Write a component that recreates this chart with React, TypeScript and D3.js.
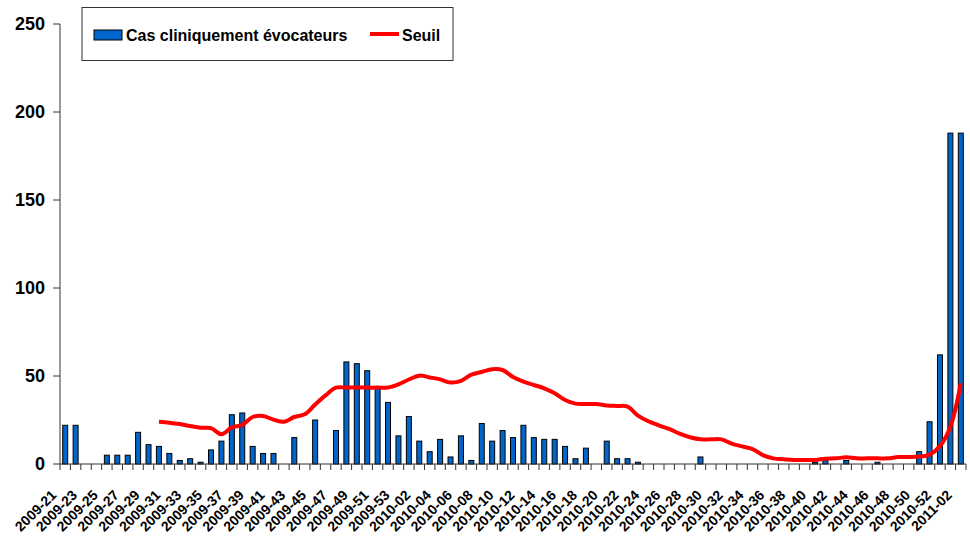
import React from "react";
import * as d3 from "d3";

// semaines (axe des x)
const weeks = [
  "2009-21", "2009-22", "2009-23", "2009-24", "2009-25", "2009-26", "2009-27", "2009-28", "2009-29", "2009-30",
  "2009-31", "2009-32", "2009-33", "2009-34", "2009-35", "2009-36", "2009-37", "2009-38", "2009-39", "2009-40",
  "2009-41", "2009-42", "2009-43", "2009-44", "2009-45", "2009-46", "2009-47", "2009-48", "2009-49", "2009-50",
  "2009-51", "2009-52", "2009-53",
  "2010-01", "2010-02", "2010-03", "2010-04", "2010-05", "2010-06", "2010-07", "2010-08", "2010-09", "2010-10",
  "2010-11", "2010-12", "2010-13", "2010-14", "2010-15", "2010-16", "2010-17", "2010-18", "2010-19", "2010-20",
  "2010-21", "2010-22", "2010-23", "2010-24", "2010-25", "2010-26", "2010-27", "2010-28", "2010-29", "2010-30",
  "2010-31", "2010-32", "2010-33", "2010-34", "2010-35", "2010-36", "2010-37", "2010-38", "2010-39", "2010-40",
  "2010-41", "2010-42", "2010-43", "2010-44", "2010-45", "2010-46", "2010-47", "2010-48", "2010-49", "2010-50",
  "2010-51", "2010-52",
  "2011-01", "2011-02",
];

// Cas cliniquement évocateurs
const cas = [
  22, 22, 0, 0, 5, 5, 5, 18, 11, 10,
  6, 2, 3, 1, 8, 13, 28, 29, 10, 6,
  6, 0, 15, 0, 25, 0, 19, 58, 57, 53,
  44, 35, 16,
  27, 13, 7, 14, 4, 16, 2, 23, 13, 19,
  15, 22, 15, 14, 14, 10, 3, 9, 0, 13,
  3, 3, 1, 0, 0, 0, 0, 0, 4, 0,
  0, 0, 0, 0, 0, 0, 0, 0, 0, 1,
  2, 0, 2, 0, 0, 1, 0, 0, 0, 7,
  24, 62,
  188, 188,
];

// Seuil (commence en 2009-30)
const seuilStart = "2009-30";
const seuil = [
  24, 23.5, 22.7, 21.6, 20.6, 20.4, 16.9, 20.8, 22.2, 26.7,
  27.3, 25.2, 24, 26.7, 28.2, 33.8, 39, 43.4, 43.4, 43.4,
  43.4, 43.4, 43.5, 45.3, 48, 50.2, 49.2, 48.1, 46.3, 47.2,
  50.8, 52.3, 53.8, 53.4, 49.4, 46.8, 44.9, 43, 40.2, 36.4,
  34.3, 34.1, 34.1, 33.3, 33, 32.6, 27.5, 24.3, 22, 19.9,
  17.2, 15.2, 14, 14, 14, 11.6, 10, 8.5, 5, 3.2,
  2.7, 2.3, 2.3, 2.3, 3, 3.2, 3.8, 3.2, 3.2, 3.2,
  3.2, 4, 4, 4.2, 5.3, 10.2, 21.2, 45.8,
];

const yTicks = [0, 50, 100, 150, 200, 250];

const font = "'Liberation Sans', Arial, sans-serif";

export default function App() {
  const x = d3.scaleBand().domain(weeks).range([60, 966]);
  const y = d3.scaleLinear().domain([0, 250]).range([464, 24]);
  const bw = x.bandwidth() * 0.48;
  const cx = (w: string) => (x(w) as number) + x.bandwidth() / 2;

  const i0 = weeks.indexOf(seuilStart);
  const line = d3
    .line<number>()
    .x((d, i) => cx(weeks[i0 + i]))
    .y((d) => y(d))
    .curve(d3.curveCatmullRom.alpha(0.5));

  const tickXs = weeks.map((w) => x(w) as number).concat([966]);

  return (
    <svg
      width={970}
      height={538}
      style={{ position: "absolute", left: 0, top: 0, background: "#fff" }}
      fontFamily={font}
      fontWeight="bold"
    >
      {/* axe y */}
      <line x1={60} x2={60} y1={24} y2={464} stroke="#333" />
      {yTicks.map((t) => (
        <g key={t}>
          <line x1={53} x2={60} y1={y(t)} y2={y(t)} stroke="#333" />
          <text x={45} y={y(t)} dy="0.36em" textAnchor="end" fontSize={18}>
            {t}
          </text>
        </g>
      ))}

      {/* barres */}
      {weeks.map((w, i) =>
        cas[i] > 0 ? (
          <rect
            key={w}
            x={cx(w) - bw / 2}
            y={y(cas[i])}
            width={bw}
            height={y(0) - y(cas[i])}
            fill="#0066CC"
            stroke="#000"
            strokeWidth={1}
          />
        ) : null
      )}

      {/* axe x */}
      <line x1={60} x2={966} y1={464} y2={464} stroke="#333" />
      {tickXs.map((t, i) => (
        <line key={i} x1={t} x2={t} y1={464} y2={470} stroke="#333" />
      ))}
      {weeks.map((w, i) =>
        i % 2 === 0 ? (
          <text
            key={w}
            transform={`translate(${cx(w) - 8},${496}) rotate(-45)`}
            textAnchor="end"
            fontSize={14}
          >
            {w}
          </text>
        ) : null
      )}

      {/* seuil */}
      <path d={line(seuil) || ""} fill="none" stroke="#FF0000" strokeWidth={4} strokeLinejoin="round" />

      {/* légende */}
      <rect x={82} y={7.5} width={371} height={53} fill="#fff" stroke="#333" />
      <rect x={94} y={30} width={28} height={10} fill="#0066CC" stroke="#000" />
      <text x={126} y={40.5} fontSize={16}>
        Cas cliniquement évocateurs
      </text>
      <line x1={370} x2={399} y1={34} y2={34} stroke="#FF0000" strokeWidth={4} />
      <text x={402} y={40.5} fontSize={16}>
        Seuil
      </text>
    </svg>
  );
}
